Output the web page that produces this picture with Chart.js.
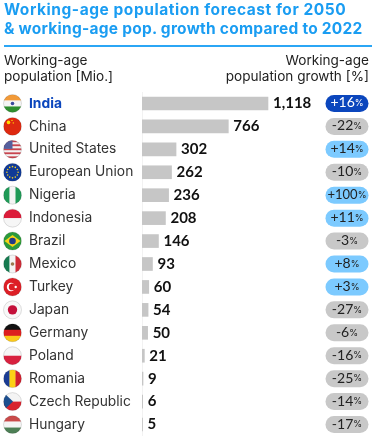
<!DOCTYPE html>
<html><head><meta charset="utf-8">
<script src="https://cdn.jsdelivr.net/npm/chart.js@4"></script>
<style>
html,body{margin:0;padding:0;background:#fff;overflow:hidden}
#wrap{position:relative;width:373px;height:436px;font-family:Inter,sans-serif}
canvas{position:absolute;left:0;top:0}
.t{position:absolute;white-space:nowrap}
#title{left:4px;top:1px;font-size:15.5px;line-height:18.5px;font-weight:700;color:#1a9df2}
#l1{letter-spacing:.55px}#l2{letter-spacing:.25px}
#rule{position:absolute;left:4px;top:45px;width:368px;height:2px;background:#2ba6f5}
#hl{left:4px;top:53px;font-size:13.6px;line-height:15.5px;color:#222}
#hr{right:4px;top:53px;font-size:13.6px;line-height:15.5px;color:#222;text-align:right}
</style></head><body>
<div id="wrap">
<canvas id="c" width="373" height="436"></canvas>
<div class="t" id="title"><span id="l1">Working-age population forecast for 2050</span><br><span id="l2">&amp; working-age pop. growth compared to 2022</span></div>
<div id="rule"></div>
<div class="t" id="hl">Working-age<br>population [Mio.]</div>
<div class="t" id="hr">Working-age<br>population growth [%]</div>
</div>
<script>
const categories=["India","China","United States","European Union","Nigeria","Indonesia","Brazil","Mexico","Turkey","Japan","Germany","Poland","Romania","Czech Republic","Hungary"];
const population=[1118,766,302,262,236,208,146,93,60,54,50,21,9,6,5];
const growth=[16,-22,14,-10,100,11,-3,8,3,-27,-6,-16,-25,-14,-17];
const FONT="Inter, sans-serif";
const NUMFONT="Lato, sans-serif";

function stripesH(g,cols,cx,cy,r){const h=2*r/cols.length;cols.forEach((c,i)=>{g.fillStyle=c;g.fillRect(cx-r,cy-r+i*h,2*r,h+.3)})}
function stripesV(g,cols,cx,cy,r){const w=2*r/cols.length;cols.forEach((c,i)=>{g.fillStyle=c;g.fillRect(cx-r+i*w,cy-r,w+.3,2*r)})}
function dot(g,x,y,r,c){g.fillStyle=c;g.beginPath();g.arc(x,y,r,0,7);g.fill()}
const flags={
"India":(g,x,y,r)=>{stripesH(g,["#f29a38","#f4f4f4","#2f8f2f"],x,y,r);dot(g,x,y,1.8,"#3b4a9c")},
"China":(g,x,y,r)=>{g.fillStyle="#de2910";g.fillRect(x-r,y-r,2*r,2*r);dot(g,x-4,y-4,1.8,"#ffde00");dot(g,x-.5,y-6,.7,"#ffde00");dot(g,x+.8,y-3.5,.7,"#ffde00")},
"United States":(g,x,y,r)=>{const s=[];for(let i=0;i<9;i++)s.push(i%2?"#f3f3f3":"#c8454f");stripesH(g,s,x,y,r);g.fillStyle="#55609e";g.fillRect(x-r,y-r,r,r*.95)},
"European Union":(g,x,y,r)=>{g.fillStyle="#103a97";g.fillRect(x-r,y-r,2*r,2*r);for(let i=0;i<12;i++){const a=i*Math.PI/6;dot(g,x+5.6*Math.cos(a),y+5.6*Math.sin(a),.8,"#f5d020")}},
"Nigeria":(g,x,y,r)=>stripesV(g,["#1f9a57","#f4f4f4","#1f9a57"],x,y,r),
"Indonesia":(g,x,y,r)=>stripesH(g,["#dc1c3a","#f6f6f6"],x,y,r),
"Brazil":(g,x,y,r)=>{g.fillStyle="#2b9a3c";g.fillRect(x-r,y-r,2*r,2*r);g.fillStyle="#f7d417";g.beginPath();g.moveTo(x-8,y);g.lineTo(x,y-6);g.lineTo(x+8,y);g.lineTo(x,y+6);g.fill();dot(g,x,y,3.3,"#223a86")},
"Mexico":(g,x,y,r)=>{stripesV(g,["#167a50","#f4f4f4","#cf2b37"],x,y,r);dot(g,x,y,1.8,"#9a7a50")},
"Turkey":(g,x,y,r)=>{g.fillStyle="#dd1f26";g.fillRect(x-r,y-r,2*r,2*r);dot(g,x-1.5,y,4.2,"#fff");dot(g,x-.3,y,3.4,"#dd1f26");dot(g,x+3.2,y,1.2,"#fff")},
"Japan":(g,x,y,r)=>{g.fillStyle="#f8f8f8";g.fillRect(x-r,y-r,2*r,2*r);dot(g,x,y,4.7,"#c4103a")},
"Germany":(g,x,y,r)=>stripesH(g,["#111","#dd1f1f","#fbc91a"],x,y,r),
"Poland":(g,x,y,r)=>stripesH(g,["#f6f6f6","#d8213f"],x,y,r),
"Romania":(g,x,y,r)=>stripesV(g,["#1a3c94","#fcd116","#d2202f"],x,y,r),
"Czech Republic":(g,x,y,r)=>{stripesH(g,["#f4f4f4","#d8232f"],x,y,r);g.fillStyle="#1d4f8e";g.beginPath();g.moveTo(x-r,y-r);g.lineTo(x+.5,y);g.lineTo(x-r,y+r);g.fill()},
"Hungary":(g,x,y,r)=>stripesH(g,["#c94a4a","#f4f4f4","#4d7f55"],x,y,r)
};
const FLAG_X=12.5, FLAG_R=9, PILL_L=325.5, PILL_W=43, PILL_H=17;

const marks={id:"marks",afterDatasetsDraw(chart){
  const g=chart.ctx,ys=chart.scales.y,xs=chart.scales.x;
  categories.forEach((name,i)=>{
    const y=ys.getPixelForValue(i);
    g.save();g.beginPath();g.arc(FLAG_X,y,FLAG_R,0,7);g.clip();flags[name](g,FLAG_X,y,FLAG_R);g.restore();
    g.save();g.strokeStyle="rgba(0,0,0,.16)";g.lineWidth=.8;g.beginPath();g.arc(FLAG_X,y,FLAG_R,0,7);g.stroke();g.restore();
    g.save();g.font="700 15px "+NUMFONT;g.fillStyle="#111";g.textAlign="left";g.textBaseline="middle";
    g.fillText(population[i].toLocaleString("en-US"),xs.getPixelForValue(population[i])+5,y);g.restore();
    const v=growth[i],top=y-PILL_H/2;
    g.save();
    g.fillStyle=i===0?"#0b46bd":(v>0?"#7ccaff":"#c8c8c8");
    g.beginPath();g.roundRect(PILL_L,top,PILL_W,PILL_H,8.5);g.fill();
    const num=(v>0?"+":"-")+Math.abs(v);
    g.fillStyle=i===0?"#fff":"#222";g.textBaseline="middle";g.textAlign="left";
    g.font=(Math.abs(v)>=100?"13px ":"14px ")+NUMFONT;
    const w1=g.measureText(num).width;
    g.save();g.font="9px "+FONT;const w2=g.measureText("%").width;g.restore();
    const sx=PILL_L+PILL_W/2-(w1+w2)/2;
    g.fillText(num,sx,y-.5);
    g.font="9px "+FONT;g.fillText("%",sx+w1,y);
    g.restore();
  });
}};

new Chart(document.getElementById("c"),{
  type:"bar",
  data:{labels:categories,datasets:[{data:population,backgroundColor:"#c6c6c6",borderWidth:0,barThickness:13,borderSkipped:false}]},
  plugins:[marks],
  options:{
    responsive:false,animation:false,indexAxis:"y",
    layout:{padding:{left:29,top:92,right:0,bottom:0}},
    plugins:{legend:{display:false},tooltip:{enabled:false},title:{display:false}},
    scales:{
      x:{display:false,min:0,max:2050},
      y:{
        grid:{display:false},
        border:{display:true,color:"#f2f2f2",width:1},
        afterFit(s){s.width=113;s.paddingTop=0;s.paddingBottom=0},
        ticks:{
          crossAlign:"far",padding:0,autoSkip:false,
          color:c=>c.index===0?"#0b46bd":"#333",
          font:c=>c.index===0?{family:FONT,size:13.8,weight:"700"}:{family:FONT,size:13.8,weight:"400"}
        }
      }
    }
  }
});
</script>
</body></html>
